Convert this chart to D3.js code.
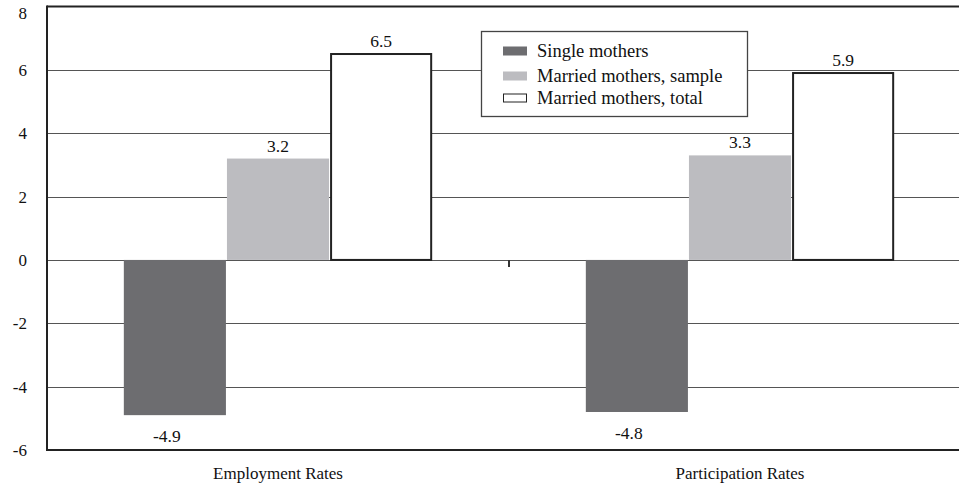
<!DOCTYPE html>
<html>
<head>
<meta charset="utf-8">
<script src="https://cdn.jsdelivr.net/npm/d3@7"></script>
<style>
  html, body { margin: 0; padding: 0; background: #fff; }
  svg { display: block; }
  svg text { font-family: "Liberation Serif", "Times New Roman", Times, serif !important; fill: #111; }
</style>
</head>
<body>
<div id="chart"></div>
<script>
// Change in rates, by group
const categories = ["Employment Rates", "Participation Rates"];
const seriesNames = ["Single mothers", "Married mothers, sample", "Married mothers, total"];
const singleMothers = [-4.9, -4.8];
const marriedSample = [3.2, 3.3];
const marriedTotal = [6.5, 5.9];
const yTicks = [-6, -4, -2, 0, 2, 4, 6, 8];

const seriesValues = [singleMothers, marriedSample, marriedTotal];
const fills = ["#6d6d70", "#bcbcc0", "#ffffff"];
const strokes = ["none", "none", "#222"];
const SERIF = "'Liberation Serif', 'Times New Roman', serif";
const fmt1 = v => v.toFixed(1);          // keeps ASCII hyphen for negatives

const W = 959, H = 486;
const plotLeft = 47, plotTop = 6.5, plotBottom = 450;

const svg = d3.select("#chart").append("svg")
  .attr("width", W).attr("height", H)
  .attr("font-family", SERIF);

const y = d3.scaleLinear().domain([-6, 8]).range([plotBottom, plotTop]);
const x0 = d3.scaleBand().domain(categories).range([plotLeft, plotLeft + 2 * 462]).padding(0);
const x1 = d3.scaleBand().domain(seriesNames).range([0, x0.bandwidth()])
  .paddingInner(0.01).paddingOuter(0.745);

// gridlines
svg.append("g")
  .selectAll("line")
  .data(yTicks.filter(t => t !== -6 && t !== 8))
  .join("line")
  .attr("x1", plotLeft).attr("x2", W)
  .attr("y1", d => Math.round(y(d)) + 0.5).attr("y2", d => Math.round(y(d)) + 0.5)
  .attr("stroke", "#555").attr("stroke-width", 1.2);

// y axis labels
const yAxis = d3.axisLeft(y).tickValues(yTicks).tickSize(0).tickPadding(20)
  .tickFormat(d => String(d));
const gy = svg.append("g").attr("transform", `translate(${plotLeft},0)`).call(yAxis);
gy.attr("font-family", SERIF).attr("font-size", 17);
gy.select(".domain").remove();
gy.selectAll("text")
  .attr("dy", d => d === 8 ? "0.7em" : "0.33em")
  .attr("fill", "#111");

// bars
const groups = svg.append("g").selectAll("g")
  .data(categories)
  .join("g")
  .attr("transform", d => `translate(${x0(d)},0)`);

groups.each(function (cat, ci) {
  const g = d3.select(this);
  seriesNames.forEach((s, si) => {
    const v = seriesValues[si][ci];
    const y0 = y(0), yv = y(v);
    g.append("rect")
      .attr("x", x1(s) + (si === 2 ? 1 : 0))
      .attr("width", x1.bandwidth() - (si === 2 ? 2 : 0))
      .attr("y", Math.min(y0, yv))
      .attr("height", Math.abs(yv - y0))
      .attr("fill", fills[si])
      .attr("stroke", strokes[si])
      .attr("stroke-width", 2);
    g.append("text")
      .attr("x", x1(s) + x1.bandwidth() / 2)
      .attr("dx", v >= 0 ? 0 : -8)
      .attr("y", v >= 0 ? yv - 7 : yv + 27)
      .attr("text-anchor", "middle")
      .attr("font-size", 17.5)
      .text(fmt1(v));
  });
});

// frame: top, left, bottom
svg.append("line").attr("x1", plotLeft).attr("x2", W).attr("y1", plotTop).attr("y2", plotTop)
  .attr("stroke", "#222").attr("stroke-width", 2);
svg.append("line").attr("x1", plotLeft).attr("x2", W).attr("y1", plotBottom).attr("y2", plotBottom)
  .attr("stroke", "#222").attr("stroke-width", 2);
svg.append("line").attr("x1", plotLeft).attr("x2", plotLeft).attr("y1", plotTop - 1).attr("y2", plotBottom + 1)
  .attr("stroke", "#222").attr("stroke-width", 2);

// category divider tick on the zero line
svg.append("line")
  .attr("x1", x0(categories[1])).attr("x2", x0(categories[1]))
  .attr("y1", y(0)).attr("y2", y(0) + 7)
  .attr("stroke", "#333").attr("stroke-width", 2);

// category labels
svg.append("g").selectAll("text")
  .data(categories)
  .join("text")
  .attr("x", d => x0(d) + x0.bandwidth() / 2)
  .attr("y", 479)
  .attr("text-anchor", "middle")
  .attr("font-size", 17)
  .text(d => d);

// legend
const lg = svg.append("g");
lg.append("rect").attr("x", 481.5).attr("y", 31.5).attr("width", 266).attr("height", 85)
  .attr("fill", "#fff").attr("stroke", "#444").attr("stroke-width", 1.3);
const rowY = [51, 76, 98];
seriesNames.forEach((s, i) => {
  lg.append("rect")
    .attr("x", i === 2 ? 503.5 : 503).attr("y", rowY[i] - 4.5 + (i === 2 ? 0.5 : 0))
    .attr("width", i === 2 ? 23 : 24).attr("height", i === 2 ? 8 : 9)
    .attr("fill", fills[i]).attr("stroke", strokes[i]).attr("stroke-width", 1);
  lg.append("text").attr("x", 537).attr("y", rowY[i]).attr("dy", "0.35em")
    .attr("font-size", 18.5).text(s);
});
</script>
</body>
</html>
